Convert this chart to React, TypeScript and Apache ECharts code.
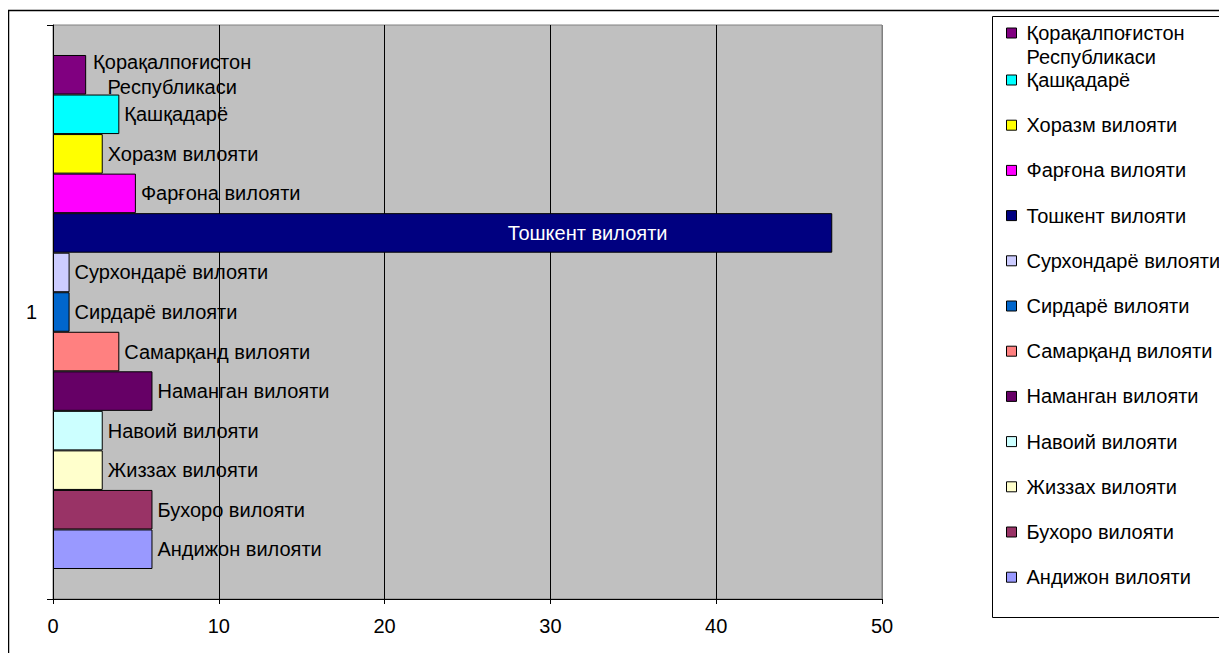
import React, { useEffect, useRef } from "react";
import * as echarts from "echarts";

const categories = ["1"];
const regionNames = [
  "Қорақалпоғистон Республикаси",
  "Қашқадарё",
  "Хоразм вилояти",
  "Фарғона вилояти",
  "Тошкент вилояти",
  "Сурхондарё вилояти",
  "Сирдарё вилояти",
  "Самарқанд вилояти",
  "Наманган вилояти",
  "Навоий вилояти",
  "Жиззах вилояти",
  "Бухоро вилояти",
  "Андижон вилояти",
];
const regionValues = [2, 4, 3, 5, 47, 1, 1, 4, 6, 3, 3, 6, 6];
const regionColors = [
  "#800080",
  "#00FFFF",
  "#FFFF00",
  "#FF00FF",
  "#000080",
  "#CCCCFF",
  "#0066CC",
  "#FF8080",
  "#660066",
  "#CCFFFF",
  "#FFFFCC",
  "#993366",
  "#9999FF",
];
const xMin = 0;
const xMax = 50;
const xStep = 10;

const FONT = "'Liberation Sans', Arial, sans-serif";
const FS = 20;

export default function App() {
  const ref = useRef<HTMLDivElement>(null);
  useEffect(() => {
    if (!ref.current) return;
    const chart = echarts.init(ref.current, undefined, { renderer: "svg" });

    const series = regionNames.map((name, i) => {
      let label: any = {
        show: true,
        position: "right",
        distance: 5,
        color: "#000",
        fontSize: FS,
        fontFamily: FONT,
        formatter: "{a}",
      };
      if (i === 0) {
        const parts = name.split(" ");
        label = {
          ...label,
          formatter: parts.map((p) => "{m|" + p + "}").join("\n"),
          rich: {
            m: {
              width: 162,
              align: "center",
              fontSize: FS,
              lineHeight: 25,
              fontFamily: FONT,
              color: "#000",
            },
          },
        };
      }
      if (name === "Тошкент вилояти") {
        label = { ...label, position: "inside", offset: [145, 0], color: "#fff" };
      }
      return {
        type: "bar",
        name,
        data: [regionValues[i]],
        barGap: "0%",
        barCategoryGap: "10.45%",
        itemStyle: { color: regionColors[i], borderColor: "#000", borderWidth: 1 },
        label,
      };
    });

    const legendCommon = {
      orient: "vertical",
      left: 998,
      padding: 0,
      icon: "rect",
      itemWidth: 10,
      itemHeight: 10,
      selectedMode: false,
      itemStyle: { borderColor: "#000", borderWidth: 1 },
    };

    chart.setOption({
      animation: false,
      backgroundColor: "#fff",
      textStyle: { fontFamily: FONT },
      grid: {
        left: 45,
        top: 17,
        width: 829,
        height: 574,
        show: true,
        backgroundColor: "#C0C0C0",
        borderColor: "#808080",
        borderWidth: 1,
        containLabel: false,
      },
      xAxis: {
        type: "value",
        min: xMin,
        max: xMax,
        interval: xStep,
        axisLine: { show: true, lineStyle: { color: "#000", width: 1 } },
        axisTick: { show: true, length: 5, lineStyle: { color: "#000" } },
        axisLabel: { color: "#000", fontSize: FS, fontFamily: FONT, margin: 17 },
        splitLine: {
          show: true,
          lineStyle: { color: ["#000", "#000", "#000", "#000", "#000", "#808080"], width: 1 },
        },
      },
      yAxis: {
        type: "category",
        data: categories,
        axisLine: { show: true, lineStyle: { color: "#000", width: 1 } },
        axisTick: { show: true, length: 6, lineStyle: { color: "#000" } },
        axisLabel: { color: "#000", fontSize: FS, fontFamily: FONT, margin: 16 },
        splitLine: { show: false },
      },
      legend: [
        {
          ...legendCommon,
          top: -11,
          data: [regionNames[0]],
          formatter: (n: string) => "\n" + n.split(" ").join("\n"),
          textStyle: {
            color: "#000",
            fontSize: FS,
            fontFamily: FONT,
            lineHeight: 24,
            padding: [0, 0, 0, 5],
          },
        },
        {
          ...legendCommon,
          top: 61,
          itemGap: 23.2,
          data: regionNames.slice(1),
          textStyle: {
            color: "#000",
            fontSize: FS,
            fontFamily: FONT,
            lineHeight: 22,
            padding: [0, 0, 0, 5],
          },
        },
      ],
      graphic: [
        {
          type: "rect",
          silent: true,
          z: 100,
          shape: { x: 0.5, y: 2.5, width: 1400, height: 1000 },
          style: { fill: "none", stroke: "#000", lineWidth: 1.5 },
        },
        {
          type: "rect",
          silent: true,
          z: 100,
          shape: { x: 984.5, y: 8.5, width: 400, height: 601 },
          style: { fill: "none", stroke: "#000", lineWidth: 1 },
        },
      ],
      series,
    });
    return () => chart.dispose();
  }, []);
  return (
    <div
      ref={ref}
      style={{ width: 1219, height: 645, overflow: "hidden" }}
    />
  );
}
